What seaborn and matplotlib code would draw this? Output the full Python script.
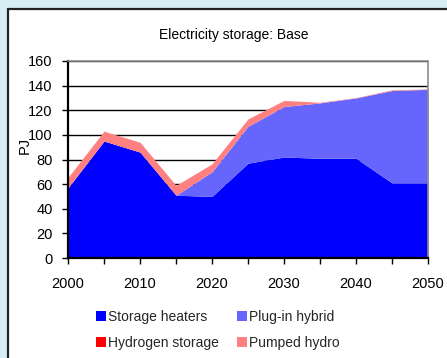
import matplotlib
matplotlib.use("Agg")
import matplotlib.pyplot as plt
from matplotlib.patches import Patch, Rectangle
from matplotlib.ticker import MultipleLocator
import seaborn as sns
import pandas as pd

years = [2000, 2005, 2010, 2015, 2020, 2025, 2030, 2035, 2040, 2045, 2050]
storage_heaters = [57, 95, 86, 51, 50, 77, 82, 81, 81, 61, 61]
plug_in_hybrid = [0, 0, 0, 0, 20, 30, 41, 45, 49, 75, 76]
hydrogen_storage = [0, 0, 0, 0, 0, 0, 0, 0, 0, 0, 0]
pumped_hydro = [8.5, 8, 8, 8, 6.5, 6, 5, 0.5, 0.3, 0.6, 0.3]

series_names = ["Storage heaters", "Plug-in hybrid", "Hydrogen storage", "Pumped hydro"]
series_colors = ["#0000ff", "#6666ff", "#ff0000", "#ff8080"]

df = pd.DataFrame({
    "year": years,
    "Storage heaters": storage_heaters,
    "Plug-in hybrid": plug_in_hybrid,
    "Hydrogen storage": hydrogen_storage,
    "Pumped hydro": pumped_hydro,
})

sns.set_theme(style="white")
plt.rcParams["font.family"] = ["Liberation Sans", "DejaVu Sans"]

fig = plt.figure(figsize=(4.47, 3.58), dpi=100)
fig.patch.set_facecolor("#d7eef5")

# white slide panel with a dark border on its left and top edges
W, H = 447, 358
fig.patches.append(Rectangle((8 / W, 0), 1, 1 - 9 / H, transform=fig.transFigure,
                             facecolor="white", edgecolor="none", zorder=-5))
fig.lines.append(plt.Line2D([8 / W, 8 / W], [0, 1 - 9 / H], transform=fig.transFigure,
                            color="#222222", lw=1.6, zorder=-4))
fig.lines.append(plt.Line2D([8 / W, 1], [1 - 9 / H, 1 - 9 / H], transform=fig.transFigure,
                            color="#222222", lw=1.6, zorder=-4))

ax = fig.add_axes([68 / W, 1 - 258 / H, 360 / W, 197 / H])
ax.set_zorder(2)
ax.set_facecolor("white")

ax.stackplot(df["year"], [df[n] for n in series_names], colors=series_colors,
             labels=series_names, linewidth=0, zorder=2)

ax.set_xlim(2000, 2050)
ax.set_ylim(0, 160)
ax.yaxis.set_major_locator(MultipleLocator(20))
ax.xaxis.set_major_locator(MultipleLocator(10))
ax.xaxis.set_minor_locator(MultipleLocator(5))

ax.grid(axis="y", color="black", lw=1.0, zorder=1)
ax.set_axisbelow(True)

for side in ["left", "bottom"]:
    ax.spines[side].set_color("black")
    ax.spines[side].set_linewidth(1.6)
for side in ["top", "right"]:
    ax.spines[side].set_color("#8c8c8c")
    ax.spines[side].set_linewidth(1.2)

ax.tick_params(axis="y", which="major", left=True, length=4.5, width=1, color="black",
               pad=6.5, labelsize=10.5, labelcolor="black")
ax.tick_params(axis="x", which="both", bottom=True, length=4, width=1, color="black",
               pad=9.5, labelsize=10.5, labelcolor="black")

ax.set_ylabel("PJ", fontsize=10.5, color="black", labelpad=0)
ax.yaxis.set_label_coords(-0.102, 0.57)
ax.set_xlabel("")

fig.text(234 / W, 1 - 35 / H, "Electricity storage: Base", ha="center", va="center",
         fontsize=10, color="black")

# legend filled row by row: matplotlib fills columns first, so reorder
order = [0, 2, 1, 3]
handles = [Patch(facecolor=series_colors[i], edgecolor="none") for i in order]
labels = [series_names[i] for i in order]
fig.legend(handles, labels, ncol=2, loc="center left",
           bbox_to_anchor=(90 / W, 1 - 330 / H), frameon=False, fontsize=10,
           handlelength=0.75, handleheight=0.75, handletextpad=0.15,
           columnspacing=1.3, labelspacing=0.9, borderaxespad=0)

fig.savefig("out.png", dpi=100, facecolor=fig.get_facecolor())
